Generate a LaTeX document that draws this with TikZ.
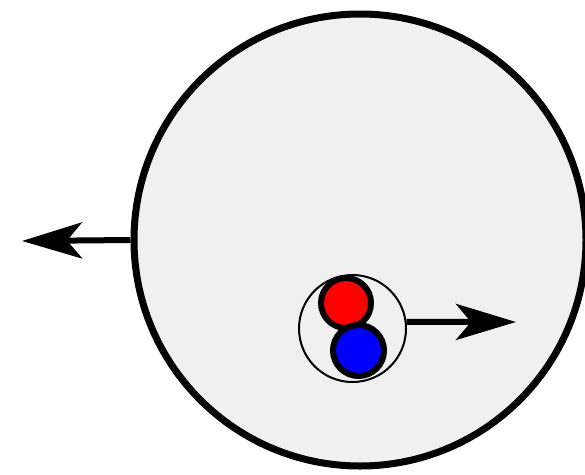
\documentclass[tikz,border=0pt]{standalone}
\usetikzlibrary{arrows.meta}

\definecolor{cellgray}{HTML}{F0F0F0}

\tikzset{
    ball/.style={circle, draw=black, line width=6pt, minimum size=50pt, inner sep=0pt},
    push/.style={line width=6pt, -{Stealth[length=60pt 0, width=36pt 0, inset=15pt 0]}}
}

\begin{document}
\begin{tikzpicture}[x=1pt, y=-1pt]
    \useasboundingbox (0,0) rectangle (585,474);

    % Big cell
    \node[circle, draw=black, fill=cellgray, line width=7pt, minimum size=452pt, inner sep=0pt] (cell) at (360,240) {};

    % Pair inside the cell
    \node[circle, draw=black, line width=2pt, minimum size=107pt, inner sep=0pt] (pair) at (352.5,328.5) {};
    \node[ball, fill=red] (red) at (346,303) {};
    \node[ball, fill=blue, minimum size=51pt] (blue) at (358.5,350.5) {};

    % Free ends of the arrows
    \coordinate (left) at (22,241);
    \coordinate (right) at (516,322);

    % Arrows
    \draw[push] (cell.west) -- (left);
    \draw[push] (pair.7) -- (right);
\end{tikzpicture}
\end{document}
